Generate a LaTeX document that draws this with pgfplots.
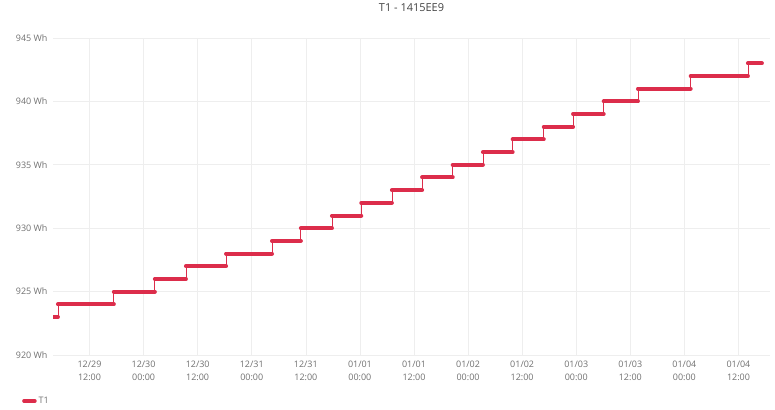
\documentclass[border=0pt]{standalone}
\usepackage{fontspec}
\setmainfont{Open Sans}
\usepackage{pgfplots}
\usepackage{pgfplotstable}
\pgfplotsset{compat=1.18}

\definecolor{linered}{HTML}{DC2D4B}
\definecolor{ticktext}{HTML}{707070}
\definecolor{titletext}{HTML}{444444}
\definecolor{gridgray}{HTML}{EEEEEE}

% hours since 12/29 00:00, meter reading; nan rows split the steps
\pgfplotstableread{
x y
4.0 923
5.0 923
nan nan
5.0 924
17.4 924
nan nan
17.4 925
26.5 925
nan nan
26.5 926
33.4 926
nan nan
33.4 927
42.3 927
nan nan
42.3 928
52.5 928
nan nan
52.5 929
58.9 929
nan nan
58.9 930
65.8 930
nan nan
65.8 931
72.3 931
nan nan
72.3 932
79.1 932
nan nan
79.1 933
85.8 933
nan nan
85.8 934
92.6 934
nan nan
92.6 935
99.3 935
nan nan
99.3 936
105.9 936
nan nan
105.9 937
112.8 937
nan nan
112.8 938
119.3 938
nan nan
119.3 939
126.1 939
nan nan
126.1 940
133.7 940
nan nan
133.7 941
145.4 941
nan nan
145.4 942
158.1 942
nan nan
158.1 943
161.2 943
}\steps

\begin{document}
\begin{tikzpicture}
\path[use as bounding box] (-53bp,-55bp) rectangle (722bp,355bp);
\begin{axis}[
  scale only axis,
  width=717bp, height=317bp,
  xmin=3.9, xmax=163,
  ymin=920, ymax=945,
  axis line style={draw=none},
  major tick length=0pt,
  grid=major,
  major grid style={gridgray, line width=0.6bp},
  xtick={12,24,36,48,60,72,84,96,108,120,132,144,156},
  xticklabels={{12/29\\12:00},{12/30\\00:00},{12/30\\12:00},{12/31\\00:00},
    {12/31\\12:00},{01/01\\00:00},{01/01\\12:00},{01/02\\00:00},{01/02\\12:00},
    {01/03\\00:00},{01/03\\12:00},{01/04\\00:00},{01/04\\12:00}},
  ytick={920,925,930,935,940,945},
  yticklabels={920 Wh,925 Wh,930 Wh,935 Wh,940 Wh,945 Wh},
  x tick label style={align=center, text=ticktext,
    font=\fontsize{9}{13.5}\selectfont, yshift=-2bp},
  y tick label style={text=ticktext, font=\fontsize{9}{11}\selectfont, xshift=-2bp},
  title={T1 - 1415EE9},
  title style={at={(0.5,1)}, anchor=center, yshift=24bp,
    text=titletext, font=\fontsize{11}{13}\selectfont},
  legend style={at={(-0.0474,-0.145)}, anchor=west, draw=none, fill=none,
    text=ticktext, font=\fontsize{9}{11}\selectfont},
  legend image code/.code={\draw[linered, line width=3.5bp] (0bp,0bp) -- (11bp,0bp);},
]
\addplot[linered, line width=0.8bp, mark=none, unbounded coords=discard, forget plot]
  table[x=x, y=y] {\steps};
\addplot[linered, line width=4bp, line cap=round, mark=none, unbounded coords=jump]
  table[x=x, y=y] {\steps};
\addlegendentry{T1}
\end{axis}
\end{tikzpicture}
\end{document}
